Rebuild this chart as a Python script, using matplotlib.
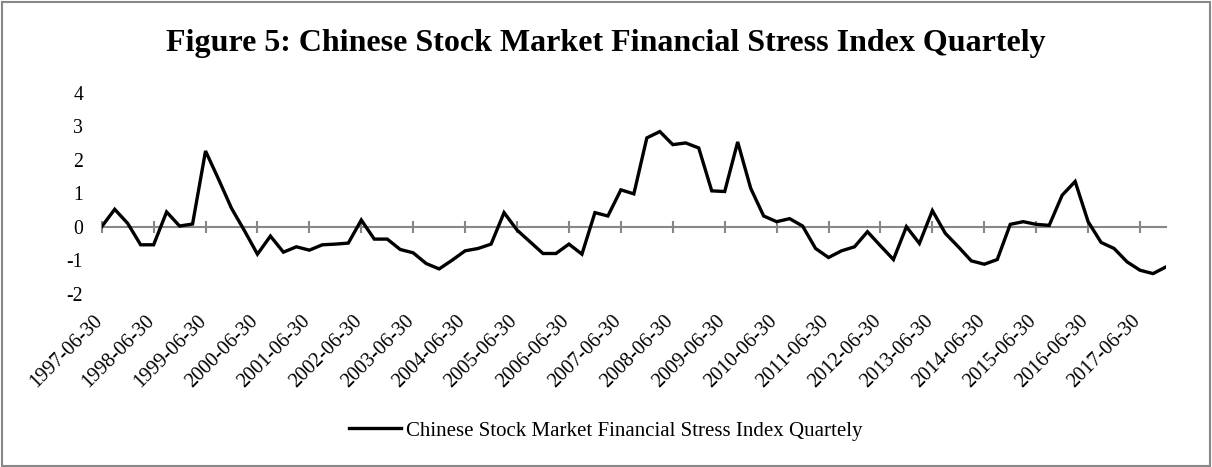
import matplotlib.pyplot as plt
import matplotlib.patches as patches
import matplotlib.transforms as mtransforms
import pandas as pd

plt.rcParams['font.family'] = ['Liberation Serif', 'DejaVu Serif']
plt.rcParams['axes.unicode_minus'] = False

# quarter-end dates, 1997Q2 .. 2017Q4
dates = pd.date_range('1997-06-30', periods=83, freq='QE').strftime('%Y-%m-%d').tolist()

# financial stress index, one value per quarter
fsi = [
    0.00, 0.52, 0.10, -0.54, -0.54, 0.44, 0.02, 0.08,
    2.26, 1.42, 0.55, -0.12, -0.82, -0.28, -0.76, -0.60,
    -0.70, -0.54, -0.52, -0.49, 0.20, -0.37, -0.37, -0.68,
    -0.78, -1.10, -1.26, -1.00, -0.72, -0.65, -0.52, 0.42,
    -0.10, -0.45, -0.80, -0.80, -0.52, -0.82, 0.42, 0.32,
    1.10, 0.98, 2.65, 2.84, 2.45, 2.50, 2.35, 1.07,
    1.05, 2.53, 1.15, 0.32, 0.15, 0.24, 0.02, -0.65,
    -0.92, -0.72, -0.60, -0.15, -0.57, -0.98, 0.00, -0.50,
    0.48, -0.20, -0.60, -1.02, -1.12, -0.98, 0.07, 0.15,
    0.07, 0.04, 0.94, 1.35, 0.15, -0.47, -0.65, -1.05,
    -1.30, -1.40, -1.20,
]
series_name = 'Chinese Stock Market Financial Stress Index Quartely'
title = 'Figure 5: Chinese Stock Market Financial Stress Index Quartely'

W, H = 1212, 467
fig = plt.figure(figsize=(W / 100, H / 100), dpi=100)
ax = fig.add_axes([101.7 / W, 1 - 293.7 / H, (1166 - 101.7) / W, (293.7 - 92.7) / H])

x = list(range(len(fsi)))
line, = ax.plot(x, fsi, color='black', lw=2.4, solid_joinstyle='miter', zorder=3)

ax.set_xlim(0, len(fsi) - 1)
ax.set_ylim(-2, 4)
ax.set_yticks(range(-2, 5))
ax.tick_params(axis='y', length=0, labelsize=14.2, pad=13.5)

for s in ('top', 'right', 'left'):
    ax.spines[s].set_visible(False)
# category axis drawn through zero, ticks crossing it
ax.spines['bottom'].set_position(('data', 0))
ax.spines['bottom'].set_color('#878787')
ax.spines['bottom'].set_linewidth(1.5)
ax.set_xticks(x[::4])
ax.tick_params(axis='x', direction='inout', length=8, width=1.5,
               color='#878787', labelbottom=False)

# labels sit at the bottom of the plot area
sec = ax.secondary_xaxis(0)
sec.set_xticks(x[::4], dates[::4], rotation=45, ha='right', va='top',
               rotation_mode='anchor', fontsize=14.6)
sec.tick_params(length=0, pad=13)
sec.spines['bottom'].set_visible(False)
shift = mtransforms.ScaledTranslation(-9 / 100, 0, fig.dpi_scale_trans)
for lbl in sec.get_xticklabels():
    lbl.set_transform(lbl.get_transform() + shift)

fig.text(606 / W, 1 - 43 / H, title, ha='center', va='center',
         fontsize=23, fontweight='bold')

fig.legend([line], [series_name], loc='center',
           bbox_to_anchor=(606 / W, 1 - 431 / H), frameon=False,
           fontsize=15, handlelength=2.5, handletextpad=0.25)

fig.add_artist(patches.Rectangle((2 / W, 1.5 / H), (W - 4) / W, (H - 3.5) / H,
                                 transform=fig.transFigure, fill=False,
                                 ec='#888888', lw=1.5))

fig.savefig('out.png', dpi=100)
